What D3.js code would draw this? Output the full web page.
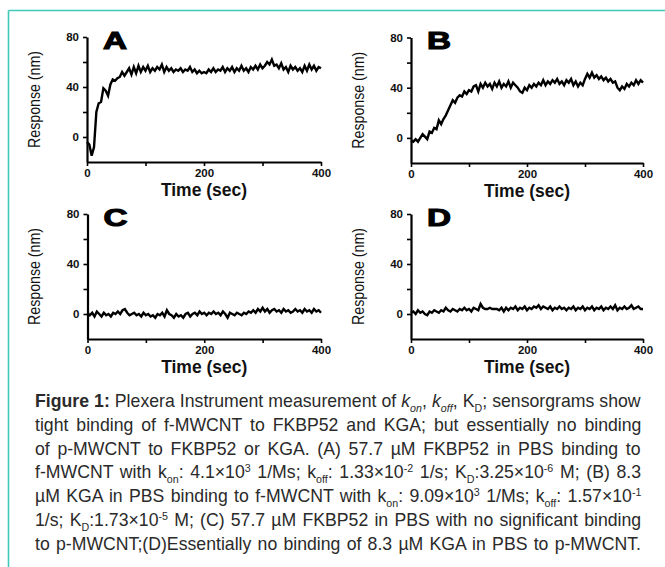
<!DOCTYPE html>
<html><head><meta charset="utf-8">
<script src="https://cdn.jsdelivr.net/npm/d3@7"></script>
<style>
html,body{margin:0;padding:0;background:#fff;}
#wrap{position:relative;width:665px;height:567px;overflow:hidden;background:#fff;}
#wrap svg{position:absolute;left:0;top:0;}
.cap{position:absolute;left:35px;top:389px;transform-origin:0 0;font-family:"Liberation Sans",Arial,sans-serif;font-size:19px;color:#2a2a2a;}
.cap .ln{height:23.8px;line-height:23.8px;white-space:nowrap;}
.cap .ln span.inner{display:inline-block;white-space:nowrap;}
.cap sub{font-size:11.5px;line-height:0;vertical-align:-5px;}
.cap sup{font-size:11.5px;line-height:0;vertical-align:6px;}
</style></head>
<body><div id="wrap"></div>
<script>
// ---------------- data ----------------
const sampleTimes = d3.range(0, 401, 4); // sec
const panelLabels = ["A", "B", "C", "D"];
const seriesA = [
  -4, -6, -15, -8, 20, 27, 28, 39, 37, 33,
  42, 46, 45, 47, 48, 52, 49, 52, 55, 50,
  56, 51, 57, 52, 56, 53, 57, 52, 55, 53,
  56, 54, 58, 52, 56, 53, 55, 52, 54, 53,
  55, 52, 54, 53, 56, 52, 54, 51, 53, 51,
  52, 51, 54, 52, 55, 52, 54, 53, 56, 52,
  55, 53, 56, 52, 55, 53, 57, 53, 55, 52,
  56, 54, 57, 54, 58, 55, 57, 60, 58, 62,
  57, 58, 55, 59, 54, 56, 52, 57, 54, 56,
  53, 55, 52, 57, 53, 58, 54, 57, 53, 56,
  55];
const seriesB = [
  -2, -3, -1, -3, 0, 3, 1, -1, 5, 4,
  8, 7, 14, 11, 15, 18, 22, 26, 30, 28,
  32, 34, 33, 37, 35, 38, 37, 41, 42, 37,
  43, 40, 44, 41, 43, 39, 44, 41, 45, 40,
  43, 41, 45, 40, 44, 42, 40, 37, 36, 40,
  38, 42, 40, 43, 41, 44, 42, 46, 42, 45,
  43, 46, 44, 47, 43, 45, 42, 46, 44, 47,
  42, 45, 41, 44, 42, 47, 51, 48, 52, 48,
  50, 47, 49, 46, 48, 45, 47, 44, 45, 40,
  38, 41, 39, 43, 41, 44, 42, 46, 43, 46,
  44];
const seriesC = [
  1, -1, 1, -2, 2, 0, -2, 1, -1, 0,
  -2, 1, 0, 2, 0, 3, 4, 1, -1, 0,
  1, -1, 0, -2, 1, -1, 0, -2, -1, -3,
  0, -1, 1, -2, 3, 0, -1, -3, 0, -2,
  -1, -3, 0, 1, -2, 0, 1, -1, 2, 0,
  1, -1, 1, 0, 2, 0, 1, -1, 2, 0,
  -3, 1, 0, -1, 1, 0, -1, 1, 0, 2,
  1, 3, 1, 4, 2, 5, 2, 4, 1, 3,
  4, 2, 3, 1, 4, 2, 3, 1, 2, 4,
  2, 3, 1, 4, 2, 3, 1, 4, 2, 3,
  1];
const seriesD = [
  1, 2, 0, 3, 1, 2, 0, -1, 2, 1,
  3, 2, 1, 3, 2, 5, 3, 2, 4, 3,
  2, 4, 3, 5, 3, 4, 2, 5, 4, 3,
  8, 5, 4, 4, 5, 4, 4, 4, 3, 5,
  2, 5, 3, 5, 4, 6, 3, 5, 4, 6,
  3, 5, 4, 6, 5, 7, 4, 6, 5, 4,
  6, 3, 5, 4, 6, 4, 5, 3, 5, 4,
  6, 3, 5, 4, 6, 3, 5, 4, 6, 3,
  5, 4, 6, 3, 5, 4, 6, 4, 7, 3,
  5, 4, 6, 4, 5, 7, 4, 5, 6, 4,
  4];
const xDomain = [0, 400];
const yDomain = [-20, 80];
const xTickLabels = [0, 200, 400];
const xMinorTicks = [100, 300];
const yTickLabels = [0, 40, 80];
const yMinorTicks = [20, 60];
const xTitle = "Time (sec)";
const yTitle = "Response (nm)";
const captionLines = [
  '<b>Figure 1:</b> Plexera Instrument measurement of <i>k</i><sub><i>on</i></sub>, <i>k</i><sub><i>off</i></sub>, K<sub>D</sub>; sensorgrams show',
  'tight binding of f-MWCNT to FKBP52 and KGA; but essentially no binding',
  'of p-MWCNT to FKBP52 or KGA. (A) 57.7 µM FKBP52 in PBS binding to',
  'f-MWCNT with k<sub>on</sub>: 4.1×10<sup>3</sup> 1/Ms; k<sub>off</sub>: 1.33×10<sup>-2</sup> 1/s; K<sub>D</sub>:3.25×10<sup>-6</sup> M; (B) 8.3',
  'µM KGA in PBS binding to f-MWCNT with k<sub>on</sub>: 9.09×10<sup>3</sup> 1/Ms; k<sub>off</sub>: 1.57×10<sup>-1</sup>',
  '1/s; K<sub>D</sub>:1.73×10<sup>-5</sup> M; (C) 57.7 µM FKBP52 in PBS with no significant binding',
  'to p-MWCNT;(D)Essentially no binding of 8.3 µM KGA in PBS to p-MWCNT.'
];

// ---------------- layout ----------------
const W = 665, H = 567;
const panels = [
  {label: panelLabels[0], data: seriesA, x0: 87,   x1: 321, yTop: 37,   yBot: 162},
  {label: panelLabels[1], data: seriesB, x0: 411,  x1: 643, yTop: 37.5, yBot: 163},
  {label: panelLabels[2], data: seriesC, x0: 87.5, x1: 321, yTop: 214,  yBot: 339},
  {label: panelLabels[3], data: seriesD, x0: 411,  x1: 643, yTop: 214,  yBot: 339}
];

const wrap = d3.select("#wrap");
const svg = wrap.append("svg").attr("width", W).attr("height", H);

// frame
const frame = "#3fc9b8";
svg.append("line").attr("x1", 8.5).attr("x2", W).attr("y1", 10.5).attr("y2", 10.5)
  .attr("stroke", frame).attr("stroke-width", 1.6);
svg.append("line").attr("x1", 8.5).attr("x2", 8.5).attr("y1", 10.5).attr("y2", H)
  .attr("stroke", frame).attr("stroke-width", 1.6);

const font = "'Liberation Sans', Arial, sans-serif";

panels.forEach(p => {
  const x = d3.scaleLinear().domain(xDomain).range([p.x0, p.x1]);
  const y = d3.scaleLinear().domain(yDomain).range([p.yBot, p.yTop]);
  const g = svg.append("g");

  g.append("g").attr("transform", `translate(0,${p.yBot})`)
    .call(d3.axisBottom(x).tickValues(xTickLabels).tickSize(4).tickSizeOuter(0).tickPadding(3));
  g.append("g").attr("transform", `translate(0,${p.yBot})`)
    .call(d3.axisBottom(x).tickValues(xMinorTicks).tickSize(4).tickSizeOuter(0).tickFormat(""))
    .select(".domain").remove();
  g.append("g").attr("transform", `translate(${p.x0},0)`)
    .call(d3.axisLeft(y).tickValues(yTickLabels).tickSize(4).tickSizeOuter(0).tickPadding(4));
  g.append("g").attr("transform", `translate(${p.x0},0)`)
    .call(d3.axisLeft(y).tickValues(yMinorTicks).tickSize(4).tickSizeOuter(0).tickFormat(""))
    .select(".domain").remove();

  g.selectAll(".domain").attr("stroke", "#000").attr("stroke-width", 2.2);
  g.selectAll(".tick line").attr("stroke", "#000").attr("stroke-width", 1.6);
  g.selectAll(".tick text").attr("fill", "#111").style("font-family", font)
    .style("font-size", "11.5px").style("font-weight", "bold");

  g.append("path")
    .datum(p.data.map((v, i) => [sampleTimes[i], v]))
    .attr("fill", "none").attr("stroke", "#000").attr("stroke-width", 2.4)
    .attr("stroke-linejoin", "miter")
    .attr("d", d3.line().x(d => x(d[0])).y(d => y(d[1])));

  g.append("text").attr("x", p.x0 + 16).attr("y", p.yTop + 11.5)
    .attr("textLength", 24).attr("lengthAdjust", "spacingAndGlyphs")
    .style("font-family", font).style("font-size", "24px").style("font-weight", "bold")
    .attr("fill", "#000").attr("stroke", "#000").attr("stroke-width", 1.1)
    .text(p.label);

  g.append("text").attr("x", (p.x0 + p.x1) / 2).attr("y", p.yBot + 33.5)
    .attr("text-anchor", "middle")
    .style("font-family", font).style("font-size", "17.5px").style("font-weight", "bold")
    .attr("fill", "#111").text(xTitle);
  g.append("text")
    .attr("transform", `translate(${p.x0 - 47.5},${(p.yTop + p.yBot) / 2}) rotate(-90)`)
    .attr("text-anchor", "middle")
    .attr("textLength", 97).attr("lengthAdjust", "spacingAndGlyphs")
    .style("font-family", font).style("font-size", "16px")
    .attr("fill", "#111").text(yTitle);
});

// caption, justified line by line via word-spacing
const capScale = 0.93, capWidth = 606;
const cap = wrap.append("div").attr("class", "cap")
  .style("transform", `scaleX(${capScale})`)
  .style("width", (capWidth / capScale) + "px");
const lines = cap.selectAll("div").data(captionLines).join("div").attr("class", "ln");
lines.append("span").attr("class", "inner").html(d => d);
lines.each(function () {
  const inner = d3.select(this).select("span.inner");
  const natural = inner.node().offsetWidth;
  const spaces = (inner.node().textContent.match(/ /g) || []).length;
  const extra = (capWidth / capScale - natural) / spaces;
  inner.style("word-spacing", extra + "px");
});
</script></body></html>
